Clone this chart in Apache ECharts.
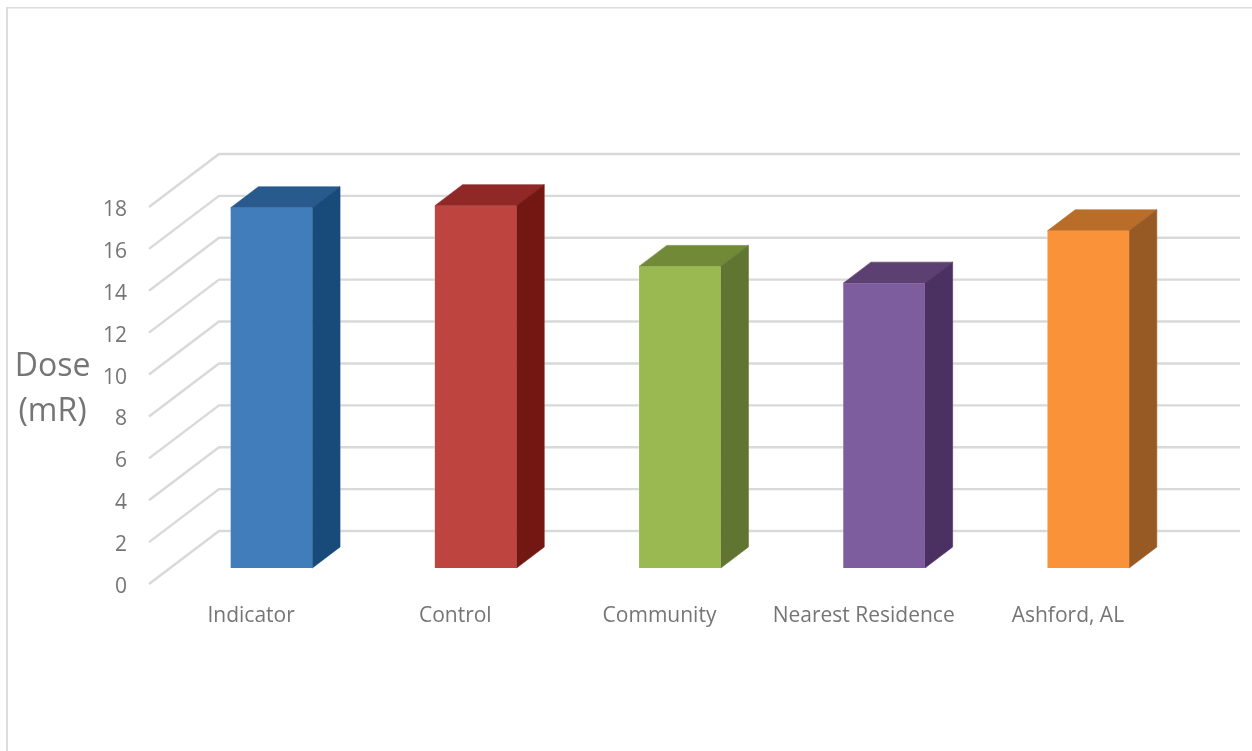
<!DOCTYPE html>
<html>
<head>
<meta charset="utf-8">
<style>
  html, body { margin: 0; padding: 0; background: #ffffff; }
  #chart { width: 1252px; height: 751px; }
</style>
<script src="https://cdn.jsdelivr.net/npm/echarts@6/dist/echarts.min.js"></script>
</head>
<body>
<div id="chart"></div>
<script>
// Measured dose at each monitoring location
const categories = ['Indicator', 'Control', 'Community', 'Nearest Residence', 'Ashford, AL'];
const doseValues = [17.2, 17.3, 14.4, 13.6, 16.1];
const yTicks = [0, 2, 4, 6, 8, 10, 12, 14, 16, 18];

// Face shades of each column: front, top, side
const frontColors = ['#417dbb', '#be4440', '#9bb951', '#7e5d9f', '#fa923a'];
const topColors = ['#285a8d', '#8f2826', '#708a38', '#5d4072', '#ba6d28'];
const sideColors = ['#184a7a', '#731713', '#5f7531', '#4b3062', '#985a24'];

// Oblique projection of the chart box
const WALL_DX = 70, WALL_DY = 53;       // floor depth, front edge to back wall
const BAR_OFFSET_DX = 20.4, BAR_OFFSET_DY = 16; // column position inside the box
const BAR_DX = 27.7, BAR_DY = 21;       // column depth
const BAR_BAND_RATIO = 0.4;
const GRID_COLOR = '#d9d9d9';
const TEXT_COLOR = '#757575';
const FONT = '"Open Sans", sans-serif';

const chart = echarts.init(document.getElementById('chart'), null, { renderer: 'canvas' });

function renderWall(params, api) {
  const cs = params.coordSys;
  const y = api.coord([0, api.value(0)])[1];
  const x0 = cs.x;
  return {
    type: 'polyline',
    shape: {
      points: [
        [x0, y],
        [x0 + WALL_DX, y - WALL_DY],
        [x0 + cs.width + WALL_DX, y - WALL_DY]
      ]
    },
    style: { stroke: GRID_COLOR, lineWidth: 2.4, fill: 'none' },
    silent: true
  };
}

function renderColumn(params, api) {
  const i = api.value(0);
  const base = api.coord([i, 0]);
  const head = api.coord([i, api.value(1)]);
  const w = api.size([1, 0])[0] * BAR_BAND_RATIO;
  const l = base[0] - w / 2 + BAR_OFFSET_DX;
  const r = l + w;
  const b = base[1] - BAR_OFFSET_DY;
  const t = head[1] - BAR_OFFSET_DY;
  const edge = 'rgba(255,255,255,0.35)';
  return {
    type: 'group',
    children: [
      {
        type: 'polygon',
        shape: { points: [[l, t], [l + BAR_DX, t - BAR_DY], [r + BAR_DX, t - BAR_DY], [r + BAR_DX, b - BAR_DY], [r, b], [l, b]] },
        style: { fill: 'none', stroke: edge, lineWidth: 1.5 }
      },
      {
        type: 'polygon',
        shape: { points: [[l, t], [r, t], [r + BAR_DX, t - BAR_DY], [l + BAR_DX, t - BAR_DY]] },
        style: { fill: topColors[i], stroke: topColors[i], lineWidth: 0.6 }
      },
      {
        type: 'polygon',
        shape: { points: [[r, t], [r + BAR_DX, t - BAR_DY], [r + BAR_DX, b - BAR_DY], [r, b]] },
        style: { fill: sideColors[i], stroke: sideColors[i], lineWidth: 0.6 }
      },
      {
        type: 'rect',
        shape: { x: l, y: t, width: w, height: b - t },
        style: { fill: frontColors[i] }
      }
    ]
  };
}

chart.setOption({
  animation: false,
  backgroundColor: '#ffffff',
  textStyle: { fontFamily: FONT },
  graphic: [
    {
      type: 'line',
      silent: true,
      shape: { x1: 7, y1: 7, x2: 7, y2: 751 },
      style: { stroke: '#dcdcdc', lineWidth: 2 }
    },
    {
      type: 'line',
      silent: true,
      shape: { x1: 6, y1: 7.75, x2: 1252, y2: 7.75 },
      style: { stroke: '#dcdcdc', lineWidth: 1.5 }
    },
    {
      type: 'text',
      silent: true,
      x: 52.5,
      y: 389.5,
      style: {
        text: 'Dose\n(mR)',
        fill: TEXT_COLOR,
        font: '32px "Open Sans", sans-serif',
        lineHeight: 45,
        align: 'center',
        verticalAlign: 'middle'
      }
    }
  ],
  grid: { left: 149, top: 207, width: 1021, height: 377, containLabel: false },
  xAxis: {
    type: 'category',
    data: categories,
    axisLine: { show: false },
    axisTick: { show: false },
    splitLine: { show: false },
    axisLabel: { color: TEXT_COLOR, fontSize: 21, fontFamily: FONT, margin: 22, interval: 0 }
  },
  yAxis: {
    type: 'value',
    min: 0,
    max: 18,
    interval: 2,
    axisLine: { show: false },
    axisTick: { show: false },
    splitLine: { show: false },
    axisLabel: { color: TEXT_COLOR, fontSize: 21, fontFamily: FONT, margin: 22, verticalAlign: 'top', lineHeight: 6 }
  },
  series: [
    {
      type: 'custom',
      name: 'Gridlines',
      renderItem: renderWall,
      data: yTicks.map(v => [v]),
      encode: { y: 0 },
      silent: true,
      z: 1
    },
    {
      type: 'custom',
      name: 'Dose',
      renderItem: renderColumn,
      data: doseValues.map((v, i) => [i, v]),
      encode: { x: 0, y: 1 },
      clip: false,
      z: 2
    }
  ]
});
</script>
</body>
</html>
